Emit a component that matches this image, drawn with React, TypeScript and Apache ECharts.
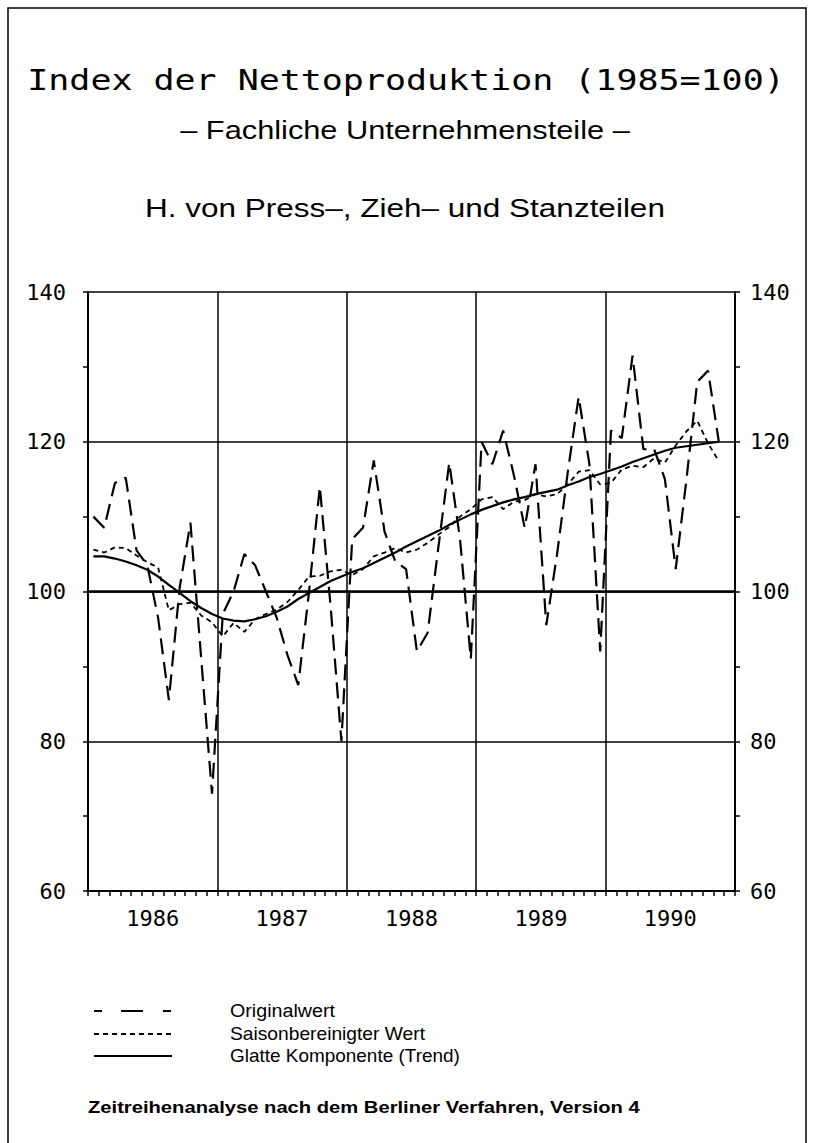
import React, { useEffect, useRef } from "react";
import * as echarts from "echarts";

const years = ["1986", "1987", "1988", "1989", "1990"];

// Monthly values Jan 1986 .. Nov 1990
const original = [
  110, 108.5, 114.5, 115.2, 105.5, 103.5, 96.5, 85.5, 100.5, 109.2, 91, 73,
  97, 100, 105, 103.5, 100, 96.5, 91.5, 87.5, 100, 114, 98, 80,
  107, 108.5, 117.5, 108, 104, 103, 92, 94.5, 106, 117.2, 107, 91,
  120, 117, 121.5, 115.5, 108.5, 117, 95.5, 105, 116, 126, 117, 92,
  121.5, 120.5, 131.5, 119, 119, 115, 103, 115, 128, 129.5, 120,
];
const seasonal = [
  105.6, 105.2, 105.9, 105.8, 104.8, 103.9, 103.2, 97.5, 98.3, 98.5, 96.8, 95.9,
  94, 95.8, 94.6, 96.3, 97, 97.6, 98.6, 100.2, 102, 102.1, 102.7, 102.9,
  102.2, 103, 104.7, 105.2, 105.8, 105.2, 105.6, 106.5, 107.6, 108.6, 110, 111,
  112.3, 112.6, 111, 112, 112.2, 113, 112.7, 113, 114.3, 116, 116.2, 114.3,
  114.5, 116.3, 116.8, 116.6, 117.8, 117.2, 119.5, 121.4, 122.8, 119.8, 117.4,
];
const trend = [
  104.7, 104.7, 104.4, 104, 103.5, 102.9, 102, 100.9, 99.8, 98.7, 97.8, 97,
  96.4, 96.1, 96, 96.3, 96.7, 97.3, 98, 99, 99.8, 100.6, 101.4, 102,
  102.6, 103.1, 103.8, 104.5, 105.2, 106, 106.7, 107.4, 108.1, 108.9, 109.6, 110.3,
  110.9, 111.4, 111.9, 112.3, 112.6, 113, 113.3, 113.6, 114.2, 114.7, 115.3, 115.7,
  116.2, 116.7, 117.3, 117.8, 118.3, 118.8, 119.2, 119.4, 119.6, 119.8, 120,
];

const legendItems = ["Originalwert", "Saisonbereinigter Wert", "Glatte Komponente (Trend)"];

const MONO = "DejaVu Sans Mono";
const SANS = "Liberation Sans";

function measure(text: string, font: string): number {
  const c = document.createElement("canvas").getContext("2d");
  if (!c) return text.length * 10;
  c.font = font;
  return c.measureText(text).width || text.length * 10;
}

function stretched(
  text: string,
  x: number,
  y: number,
  family: string,
  size: number,
  weight: string,
  target: number,
  align: "left" | "center"
) {
  const w = measure(text, `${weight} ${size}px "${family}"`);
  const s = target / w;
  return {
    type: "text",
    x,
    y,
    scaleX: s,
    silent: true,
    style: {
      text,
      fill: "#000",
      fontFamily: family,
      fontSize: size,
      fontWeight: weight,
      align,
      verticalAlign: "middle",
    },
  };
}

export default function App() {
  const ref = useRef<HTMLDivElement>(null);

  useEffect(() => {
    document.body.style.margin = "0";
    if (!ref.current) return;
    const chart = echarts.init(ref.current, null, { renderer: "svg" });

    const toXY = (arr: number[]) => arr.map((v, i) => [i + 0.5, v]);

    const graphic: any[] = [
      {
        type: "rect",
        silent: true,
        shape: { x: 8, y: 8, width: 798, height: 1200 },
        style: { fill: "none", stroke: "#000", lineWidth: 1.5 },
      },
      stretched("Index der Nettoproduktion (1985=100)", 406, 80, MONO, 28, "normal", 758, "center"),
      stretched("\u2013 Fachliche Unternehmensteile \u2013", 405, 131, SANS, 25, "normal", 450, "center"),
      stretched("H. von Press\u2013, Zieh\u2013 und Stanzteilen", 405, 208, SANS, 25, "normal", 520, "center"),
      {
        type: "line",
        silent: true,
        shape: { x1: 94, y1: 1011, x2: 171, y2: 1011 },
        style: { stroke: "#000", lineWidth: 2, lineDash: [8, 19, 22, 20] },
      },
      {
        type: "line",
        silent: true,
        shape: { x1: 94, y1: 1034, x2: 172, y2: 1034 },
        style: { stroke: "#000", lineWidth: 1.8, lineDash: [5, 4] },
      },
      {
        type: "line",
        silent: true,
        shape: { x1: 94, y1: 1056, x2: 172, y2: 1056 },
        style: { stroke: "#000", lineWidth: 2 },
      },
      stretched(legendItems[0], 230, 1011, SANS, 18, "normal", 105, "left"),
      stretched(legendItems[1], 230, 1034, SANS, 18, "normal", 195, "left"),
      stretched(legendItems[2], 230, 1056, SANS, 18, "normal", 230, "left"),
      stretched(
        "Zeitreihenanalyse nach dem Berliner Verfahren, Version 4",
        88,
        1108,
        SANS,
        16,
        "bold",
        552,
        "left"
      ),
    ];

    const yAxisBase = {
      type: "value",
      min: 60,
      max: 140,
      interval: 20,
      axisLine: { show: true, lineStyle: { color: "#000", width: 2 } },
      axisTick: { show: true, length: 5, inside: false, lineStyle: { color: "#000", width: 1.5 } },
      minorTick: { show: true, splitNumber: 2, length: 5, lineStyle: { color: "#000", width: 1.5 } },
      axisLabel: { color: "#000", fontFamily: MONO, fontSize: 22 },
    };

    chart.setOption({
      animation: false,
      backgroundColor: "#fff",
      grid: { left: 88, right: 79, top: 292, bottom: 252, containLabel: false },
      xAxis: [
        {
          type: "value",
          min: 0,
          max: 60,
          interval: 12,
          position: "bottom",
          axisLine: { show: true, onZero: false, lineStyle: { color: "#000", width: 2 } },
          axisTick: { show: true, length: 5, inside: false, lineStyle: { color: "#000", width: 1.5 } },
          minorTick: { show: true, splitNumber: 12, length: 5, lineStyle: { color: "#000", width: 1.5 } },
          splitLine: { show: true, lineStyle: { color: "#000", width: 1.5 } },
          axisLabel: { show: false },
        },
        {
          type: "category",
          data: years,
          position: "bottom",
          boundaryGap: true,
          axisLine: { show: false },
          axisTick: { show: false },
          splitLine: { show: false },
          axisLabel: { margin: 16, color: "#000", fontFamily: MONO, fontSize: 22 },
        },
      ],
      yAxis: [
        {
          ...yAxisBase,
          position: "left",
          splitLine: { show: true, lineStyle: { color: "#000", width: 1.5 } },
          axisLabel: { ...yAxisBase.axisLabel, margin: 22 },
        },
        {
          ...yAxisBase,
          position: "right",
          splitLine: { show: false },
          axisLabel: { ...yAxisBase.axisLabel, margin: 15 },
        },
      ],
      series: [
        {
          name: legendItems[0],
          type: "line",
          xAxisIndex: 0,
          yAxisIndex: 0,
          data: toXY(original),
          symbol: "none",
          silent: true,
          lineStyle: { color: "#000", width: 2.2, type: [16, 8] },
        },
        {
          name: legendItems[1],
          type: "line",
          xAxisIndex: 0,
          yAxisIndex: 0,
          data: toXY(seasonal),
          symbol: "none",
          silent: true,
          lineStyle: { color: "#000", width: 1.8, type: [5, 4] },
        },
        {
          name: legendItems[2],
          type: "line",
          xAxisIndex: 0,
          yAxisIndex: 0,
          data: toXY(trend),
          symbol: "none",
          silent: true,
          lineStyle: { color: "#000", width: 2.2 },
          markLine: {
            silent: true,
            symbol: "none",
            label: { show: false },
            lineStyle: { color: "#000", width: 2.6, type: "solid" },
            data: [{ yAxis: 100 }],
          },
        },
      ],
      graphic,
    });

    return () => chart.dispose();
  }, []);

  return <div ref={ref} style={{ width: 814, height: 1143 }} />;
}
